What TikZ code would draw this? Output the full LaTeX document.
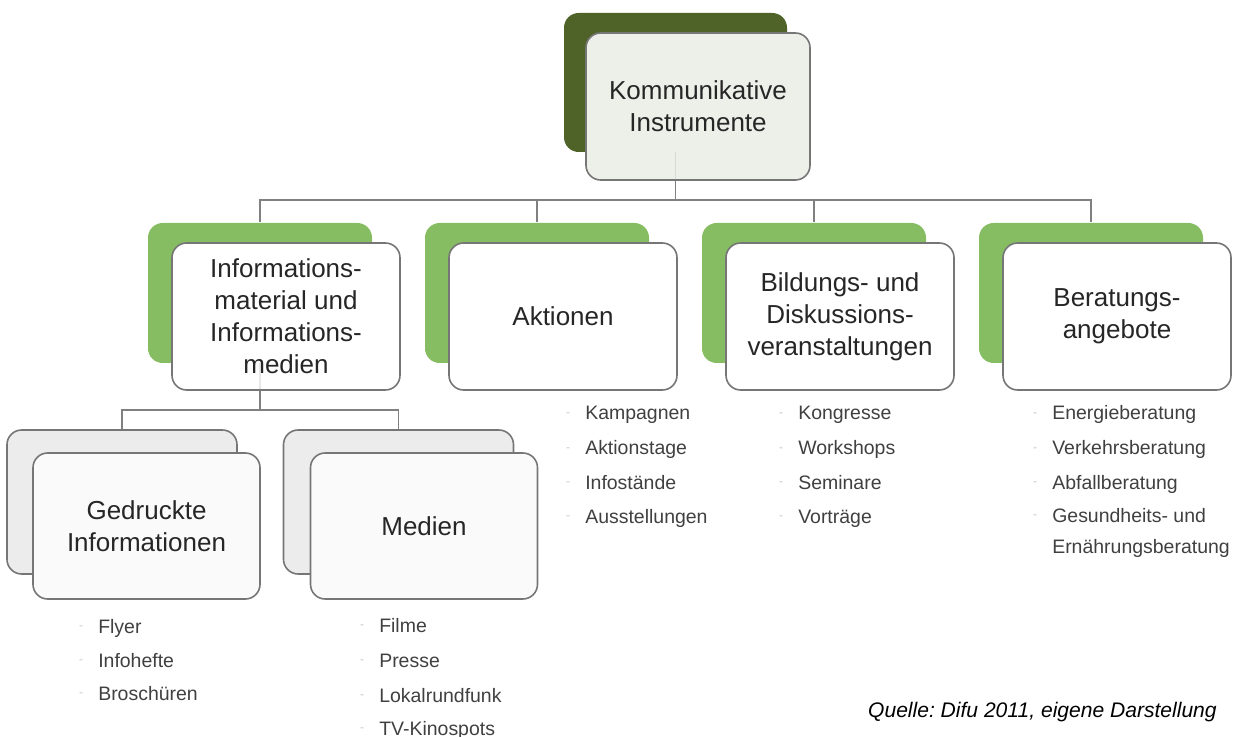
\documentclass[tikz,border=0pt]{standalone}
\usepackage{fontspec}
\setmainfont{Liberation Sans}
\frenchspacing

\pgfdeclarelayer{bg}
\pgfsetlayers{bg,main}

\definecolor{olivedark}{RGB}{79,98,40}
\definecolor{leafgreen}{RGB}{134,189,99}
\definecolor{boxline}{RGB}{118,118,118}
\definecolor{linkgray}{RGB}{128,128,128}
\definecolor{topface}{RGB}{237,240,233}
\definecolor{paleback}{RGB}{236,236,236}
\definecolor{paleface}{RGB}{250,250,250}
\definecolor{labeltext}{RGB}{38,38,38}
\definecolor{listtext}{RGB}{64,64,64}

\newcommand{\boxfont}{\fontsize{19.5}{24}\selectfont}
\newcommand{\itemfont}{\fontsize{14.6}{17}\selectfont}

\tikzset{every picture/.style={line width=0.75pt}}
\tikzset{
  backbox/.style={rectangle, rounded corners=11pt, minimum width=168pt, minimum height=105pt, inner sep=0pt},
  frontbox/.style={rectangle, rounded corners=11pt, draw=boxline, line width=1.2pt, fill=white, text=labeltext, align=center, font=\boxfont, minimum width=171pt, minimum height=110.25pt, inner sep=0pt},
  link/.style={draw=linkgray, line width=1.3pt},
  faintlink/.style={link, draw opacity=0.18},
  bulletmark/.style={inner sep=0pt, text=gray!45, font=\fontsize{9}{9}\selectfont, label distance=11pt},
  listline/.style={anchor=west, inner sep=0pt, text=listtext, font=\itemfont, text height=10.5pt, text depth=3pt},
  listitem/.style={listline, label={[bulletmark]left:-}}
}

\begin{document}
\begin{tikzpicture}[x=0.75pt,y=0.75pt,yscale=-1,xscale=1]
\useasboundingbox (0,0) rectangle (1238,737);

%Shape: Rounded Rect, top
\node[backbox, fill=olivedark, minimum width=167.25pt, minimum height=104.25pt] (kiB) at (675.5,82.5) {};
\node[frontbox, fill=topface, minimum width=168pt] (kiF) at (698,106.5) {Kommunikative\\Instrumente};

%Shape: Rounded Rect, second row
\node[backbox, fill=leafgreen] (infB) at (260,293) {};
\node[frontbox] (infF) at (286,316.5) {Informations-\\material und\\Informations-\\medien};
\node[backbox, fill=leafgreen] (aktB) at (537,293) {};
\node[frontbox] (aktF) at (563,316.5) {Aktionen};
\node[backbox, fill=leafgreen] (bilB) at (814,293) {};
\node[frontbox] (bilF) at (840,316.5) {Bildungs- und\\Diskussions-\\veranstaltungen};
\node[backbox, fill=leafgreen] (berB) at (1091,293) {};
\node[frontbox] (berF) at (1117,316.5) {Beratungs-\\angebote};

%Shape: Rounded Rect, third row
\node[backbox, draw=boxline, line width=1.2pt, fill=paleback, minimum width=172.5pt, minimum height=108pt] (gedB) at (122,502) {};
\node[frontbox, fill=paleface, minimum width=170.25pt, minimum height=109.5pt] (gedF) at (146.5,526) {Gedruckte\\Informationen};
\node[backbox, draw=boxline, line width=1.2pt, fill=paleback, minimum width=172.5pt, minimum height=108pt] (medB) at (398.5,502) {};
\node[frontbox, fill=paleface, minimum width=170.25pt, minimum height=109.5pt] (medF) at (424,526) {Medien};

%Straight Lines
\coordinate (bus1) at (675.5,200);
\coordinate (bus2) at (260,410);
\begin{pgfonlayer}{bg}
\draw[link] (kiF.south -| kiB.center) -- (bus1);
\draw[link] (infB.north) |- (bus1) -| (berB.north);
\draw[link] (aktB.north) -- (aktB.north |- bus1);
\draw[link] (bilB.north) -- (bilB.north |- bus1);
\draw[link] (infF.south -| infB.center) -- (bus2);
\draw[link] (gedB.north) |- (bus2) -| (medB.north);
\end{pgfonlayer}
\draw[faintlink] (kiB.south) -- (kiF.south -| kiB.center);
\draw[faintlink] (infB.south) -- (infF.south -| infB.center);

% Text Node
\node[listitem] (akt1) at (585,415) {Kampagnen};
\node[listitem] (akt2) at (585,450) {Aktionstage};
\node[listitem] (akt3) at (585,484) {Infostände};
\node[listitem] (akt4) at (585,518) {Ausstellungen};
% Text Node
\node[listitem] (bil1) at (798,415) {Kongresse};
\node[listitem] (bil2) at (798,450) {Workshops};
\node[listitem] (bil3) at (798,484) {Seminare};
\node[listitem] (bil4) at (798,518) {Vorträge};
% Text Node
\node[listitem] (ber1) at (1052,415) {Energieberatung};
\node[listitem] (ber2) at (1052,450) {Verkehrsberatung};
\node[listitem] (ber3) at (1052,484) {Abfallberatung};
\node[listitem] (ber4) at (1052,517) {Gesundheits- und};
\node[listline] (ber5) at (1052,548) {Ernährungsberatung};
% Text Node
\node[listitem] (ged1) at (98,628) {Flyer};
\node[listitem] (ged2) at (98,662) {Infohefte};
\node[listitem] (ged3) at (98,695) {Broschüren};
% Text Node
\node[listitem] (med1) at (379,627) {Filme};
\node[listitem] (med2) at (379,662) {Presse};
\node[listitem] (med3) at (379,697) {Lokalrundfunk};
\node[listitem] (med4) at (379,730) {TV-Kinospots};
% Text Node
\node[anchor=east, inner sep=0pt, font=\itshape\fontsize{15.8}{18}\selectfont] (src) at (1217,712) {Quelle: Difu 2011, eigene Darstellung};

\end{tikzpicture}
\end{document}
